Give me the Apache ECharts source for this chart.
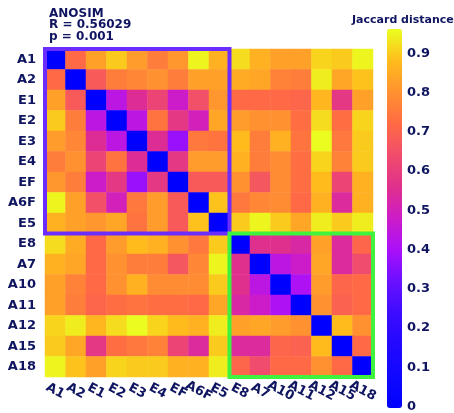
<!DOCTYPE html>
<html>
<head>
<meta charset="utf-8">
<script src="https://cdn.jsdelivr.net/npm/echarts@6/dist/echarts.min.js"></script>
<style>html,body{margin:0;padding:0;background:#fff}#c{width:454px;height:413px}</style>
</head>
<body>
<div id="c"></div>
<script>
const samples = ['A1','A2','E1','E2','E3','E4','EF','A6F','E5','E8','A7','A10','A11','A12','A15','A18'];
// Jaccard distance rows (row order = samples)
const rowA1  = [0.00,0.72,0.83,0.90,0.82,0.76,0.81,0.95,0.86,0.92,0.86,0.83,0.83,0.91,0.90,0.95];
const rowA2  = [0.72,0.00,0.68,0.76,0.78,0.80,0.76,0.83,0.83,0.85,0.84,0.77,0.76,0.94,0.84,0.89];
const rowE1  = [0.83,0.68,0.00,0.44,0.55,0.62,0.48,0.65,0.81,0.72,0.72,0.72,0.71,0.87,0.58,0.83];
const rowE2  = [0.90,0.76,0.44,0.00,0.44,0.74,0.58,0.50,0.84,0.82,0.80,0.80,0.73,0.92,0.73,0.91];
const rowE3  = [0.82,0.78,0.55,0.44,0.00,0.55,0.38,0.75,0.74,0.88,0.76,0.86,0.74,0.96,0.75,0.90];
const rowE4  = [0.76,0.80,0.62,0.74,0.55,0.00,0.58,0.82,0.82,0.86,0.76,0.79,0.73,0.91,0.77,0.90];
const rowEF  = [0.81,0.76,0.48,0.58,0.38,0.58,0.00,0.68,0.68,0.80,0.67,0.79,0.73,0.88,0.62,0.86];
const rowA6F = [0.95,0.83,0.65,0.50,0.75,0.82,0.68,0.00,0.89,0.75,0.78,0.79,0.72,0.86,0.54,0.86];
const rowE5  = [0.86,0.83,0.81,0.84,0.74,0.82,0.68,0.89,0.00,0.90,0.95,0.90,0.84,0.94,0.90,0.94];
const rowE8  = [0.92,0.85,0.72,0.82,0.88,0.86,0.80,0.75,0.90,0.00,0.56,0.56,0.53,0.83,0.54,0.71];
const rowA7  = [0.86,0.84,0.72,0.80,0.76,0.76,0.67,0.78,0.95,0.56,0.00,0.44,0.48,0.84,0.54,0.64];
const rowA10 = [0.83,0.77,0.72,0.80,0.86,0.79,0.79,0.79,0.90,0.56,0.44,0.00,0.41,0.82,0.71,0.72];
const rowA11 = [0.83,0.76,0.71,0.73,0.74,0.73,0.73,0.72,0.84,0.53,0.48,0.41,0.00,0.80,0.70,0.72];
const rowA12 = [0.91,0.94,0.87,0.92,0.96,0.91,0.88,0.86,0.94,0.83,0.84,0.82,0.80,0.00,0.88,0.80];
const rowA15 = [0.90,0.84,0.58,0.73,0.75,0.77,0.62,0.54,0.90,0.54,0.54,0.71,0.70,0.88,0.00,0.72];
const rowA18 = [0.95,0.89,0.83,0.91,0.90,0.90,0.86,0.86,0.94,0.71,0.64,0.72,0.72,0.80,0.72,0.00];
const rows = [rowA1,rowA2,rowE1,rowE2,rowE3,rowE4,rowEF,rowA6F,rowE5,rowE8,rowA7,rowA10,rowA11,rowA12,rowA15,rowA18];
// groups: [first index, last index]
const groupA = [0, 8];
const groupB = [9, 15];
const colorTicks = [0, 0.1, 0.2, 0.3, 0.4, 0.5, 0.6, 0.7, 0.8, 0.9];
const anosimText = ['ANOSIM', 'R = 0.56029', 'p = 0.001'];

const data = [];
rows.forEach((r, yi) => r.forEach((v, xi) => data.push([xi, yi, v])));

const navy = '#0f1560';
const font = 'DejaVu Sans';
const chart = echarts.init(document.getElementById('c'), null, {renderer: 'canvas'});
chart.setOption({
  animation: false,
  backgroundColor: '#fff',
  textStyle: {fontFamily: font},
  title: [
    {text: anosimText.join('\n'), left: 44, top: 3,
     textStyle: {fontSize: 12, fontWeight: 'bold', color: navy, lineHeight: 11.5, fontFamily: font}},
    {text: 'Jaccard distance', left: 347, top: 10,
     textStyle: {fontSize: 11, fontWeight: 'bold', color: navy, fontFamily: font}}
  ],
  grid: [
    {left: 45, top: 49, width: 328, height: 328},
    {left: 402, top: 29, width: 1, height: 379}
  ],
  xAxis: [
    {type: 'category', data: samples, gridIndex: 0,
     axisLine: {show: false}, axisTick: {show: false}, splitArea: {show: false},
     axisLabel: {rotate: -28, align: 'center', verticalAlign: 'middle', fontSize: 13, fontWeight: 'bold',
       color: navy, margin: 14, fontFamily: font, interval: 0}},
    {type: 'value', gridIndex: 1, show: false}
  ],
  yAxis: [
    {type: 'category', data: samples, gridIndex: 0, inverse: true,
     axisLine: {show: false}, axisTick: {show: false},
     axisLabel: {fontSize: 13, fontWeight: 'bold', color: navy, margin: 9, fontFamily: font, interval: 0}},
    {type: 'value', gridIndex: 1, min: 0, max: 0.962, interval: 0.1, position: 'right',
     axisLine: {show: false}, axisTick: {show: false}, splitLine: {show: false},
     axisLabel: {fontSize: 13, fontWeight: 'bold', color: navy, margin: 4, fontFamily: font,
       showMaxLabel: false,
       formatter: v => colorTicks.some(t => Math.abs(t - v) < 1e-6) ? (Math.round(v * 10) / 10).toString() : ''}}
  ],
  visualMap: {
    type: 'continuous', seriesIndex: 0, min: 0, max: 0.962,
    left: 387, top: 29, itemWidth: 15, itemHeight: 379, padding: 0,
    calculable: false, orient: 'vertical', text: null, hoverLink: false,
    inRange: {color: ['#0000ff','#1008ff','#2208ff','#3c0cff','#6a10ff','#aa10fa','#cc1cc8','#e0308c','#f04c6c','#ff6a44','#ff9230','#ffbc1c','#eaff20']}
  },
  series: [
    {type: 'heatmap', xAxisIndex: 0, yAxisIndex: 0, data: data, itemStyle: {borderWidth: 0}},
    {type: 'custom', xAxisIndex: 0, yAxisIndex: 0, z: 10, silent: true,
     data: [[groupA[0], groupA[1], 0], [groupB[0], groupB[1], 1]],
     renderItem: function (params, api) {
       const a = api.value(0), b = api.value(1);
       const p0 = api.coord([a, a]);
       const p1 = api.coord([b, b]);
       const s = api.size([1, 1]);
       const x0 = p0[0] - s[0] / 2, y0 = p0[1] - s[1] / 2;
       const x1 = p1[0] + s[0] / 2, y1 = p1[1] + s[1] / 2;
       const col = api.value(2) === 0 ? '#6a2cff' : '#3ef23e';
       return {type: 'rect', shape: {x: x0, y: y0, width: x1 - x0, height: y1 - y0},
               style: {fill: 'none', stroke: col, lineWidth: 4}};
     }}
  ]
});
</script>
</body>
</html>
